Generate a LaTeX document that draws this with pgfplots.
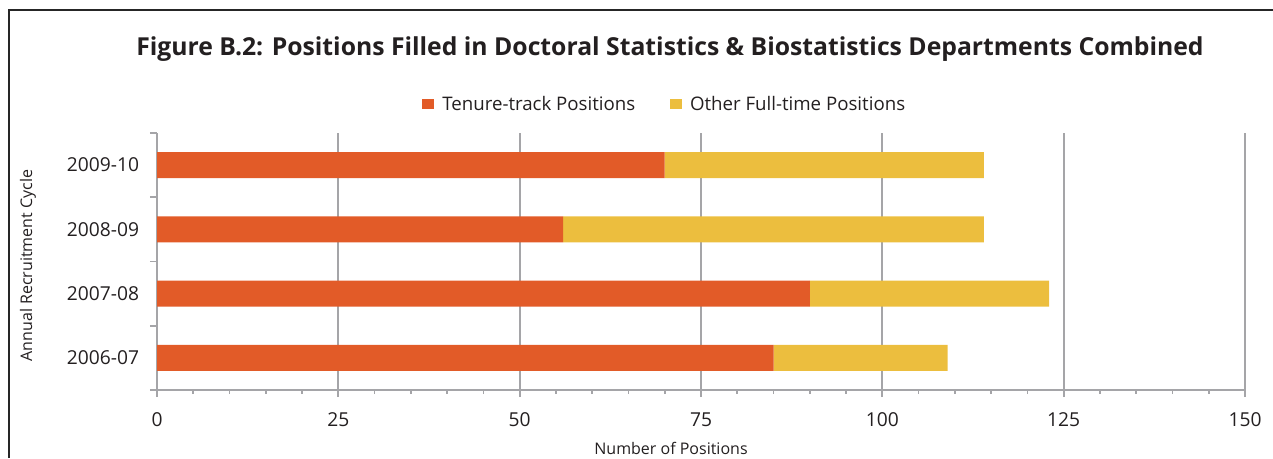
\documentclass[border=0pt]{standalone}
\usepackage{fontspec}
\setmainfont{Open Sans}
\usepackage{pgfplots}
\pgfplotsset{compat=1.18}
\definecolor{tenure}{RGB}{226,91,40}
\definecolor{other}{RGB}{236,190,62}
\definecolor{axgray}{RGB}{165,165,168}
\definecolor{txt}{RGB}{35,31,32}
\begin{document}
\begin{tikzpicture}[x=0.75pt,y=0.75pt]
\useasboundingbox (0,0) rectangle (1273,458);
\draw[line width=1.1pt,color=black!85] (9,0) -- (9,448) -- (1280,448);
\node[font=\fontsize{18.55}{22}\selectfont\bfseries,text=txt] at (670,409) {Figure B.2: Positions Filled in Doctoral Statistics \& Biostatistics Departments Combined};
\begin{axis}[
  at={(117.75pt,51pt)}, anchor=south west,
  scale only axis, width=816pt, height=192.75pt,
  xbar stacked, bar width=0.406,
  xmin=0, xmax=150, ymin=-0.5, ymax=3.5,
  axis x line*=bottom, axis y line*=left,
  axis line style={axgray, line width=1.3pt, -},
  xtick={0,25,50,75,100,125,150},
  minor xtick={5,10,15,20,30,35,40,45,55,60,65,70,80,85,90,95,105,110,115,120,130,135,140,145},
  xmajorgrids, major grid style={axgray, line width=1.3pt},
  major tick length=5.25pt, minor tick length=3pt,
  tick style={axgray, line width=1.3pt},
  tick align=outside,
  ytick={-0.5,0.5,1.5,2.5,3.5},
  yticklabels={,,,,,},
  extra y ticks={0,1,2,3},
  extra y tick labels={2006-07,2007-08,2008-09,2009-10},
  extra y tick style={major tick length=0pt},
  /pgf/number format/assume math mode=true,
  ticklabel style={font=\fontsize{14.4}{17}\selectfont, text=txt},
  xticklabel style={yshift=-8pt},
  yticklabel style={xshift=-10pt},
  xlabel={Number of Positions},
  ylabel={Annual Recruitment Cycle},
  label style={font=\fontsize{12}{14}\selectfont, text=txt},
  xlabel style={yshift=-5pt, xshift=-22.5pt},
  ylabel style={yshift=11pt, xshift=-3pt},
  legend columns=2,
  legend style={at={(0.467,1.113)}, anchor=center, draw=none, fill=none,
    font=\fontsize{14}{16}\selectfont, text=txt,
    /tikz/every even column/.append style={column sep=24pt}},
  legend image code/.code={\fill[#1] (0pt,-3.75pt) rectangle (9pt,3.75pt); \path (13pt,0pt);},
]
\addplot[fill=tenure, draw=none] coordinates {(85,0) (90,1) (56,2) (70,3)};
\addplot[fill=other, draw=none] coordinates {(24,0) (33,1) (58,2) (44,3)};
\legend{Tenure-track Positions, Other Full-time Positions}
\end{axis}
\end{tikzpicture}
\end{document}
